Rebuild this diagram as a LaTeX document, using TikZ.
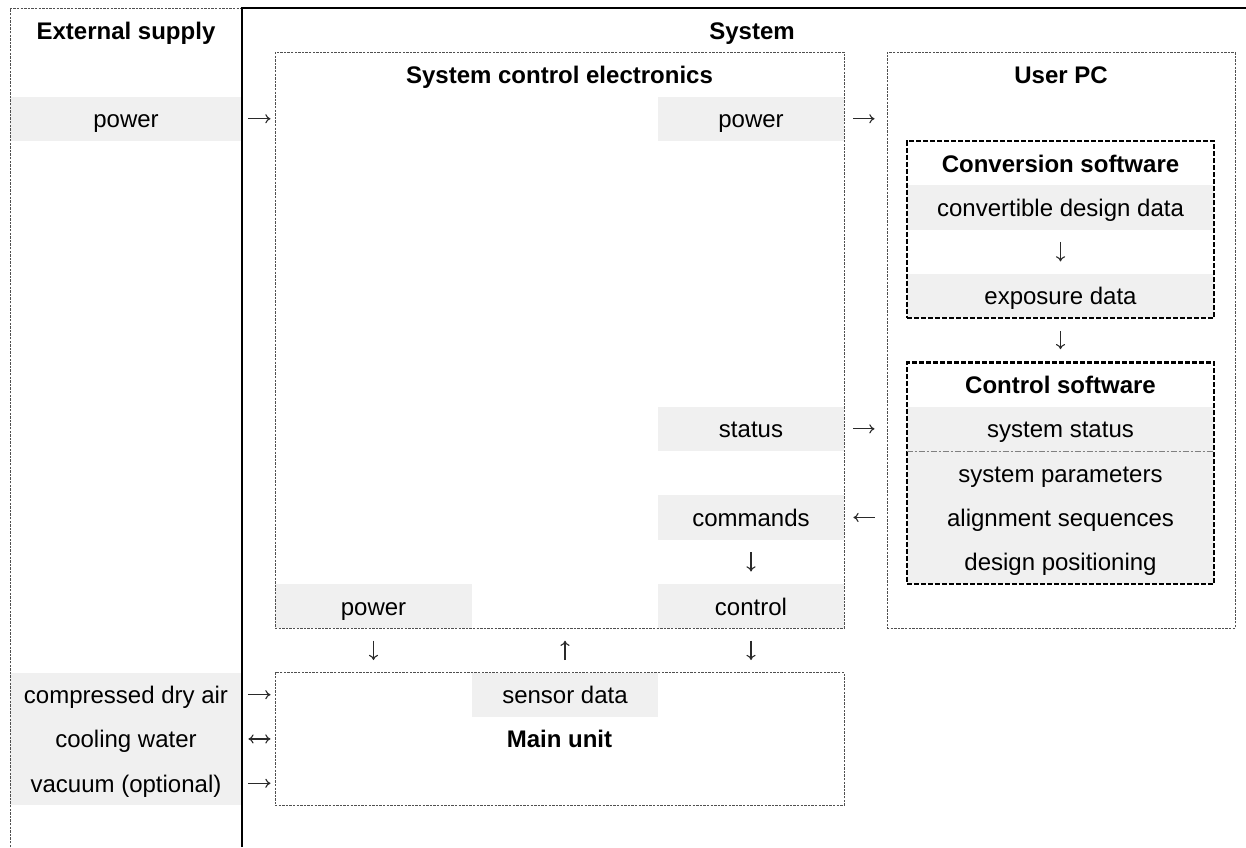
\documentclass[tikz,border=0pt]{standalone}
\usepackage{fontspec}
\setmainfont{Liberation Sans}
\usetikzlibrary{arrows.meta}
\definecolor{bandgray}{HTML}{F0F0F0}
\definecolor{linegray}{HTML}{505050}
\definecolor{arrowgray}{HTML}{2A2A2A}

\begin{document}
\begin{tikzpicture}[
  x=0.5pt, y=-22.15pt,
  every node/.style={font=\fontsize{12}{14}\selectfont, text height=9pt, text depth=0pt},
  band/.style={rectangle, fill=bandgray, inner sep=0pt, minimum height=22.15pt},
  head_text/.style={rectangle, inner sep=0pt, minimum height=22.15pt, font=\fontsize{12}{14}\selectfont\bfseries},
  fine_line/.style={draw=linegray, line width=0.5pt, dash pattern=on 1.2pt off 0.6pt},
  fine_box/.style={rectangle, fine_line, inner sep=0pt},
  heavy_box/.style={rectangle, draw=black, line width=1.2pt, dash pattern=on 2.5pt off 1pt, inner sep=0pt},
  sep_line/.style={draw=gray, line width=0.4pt, dash pattern=on 3pt off 1pt on 1pt off 1pt},
  flow/.style={draw=arrowgray, line width=0.55pt, -{To[length=2.6pt,width=4.6pt]}},
  flow_both/.style={draw=arrowgray, line width=0.55pt, {To[length=2.6pt,width=4.6pt]}-{To[length=2.6pt,width=4.6pt]}},
]
\useasboundingbox (0,-0.1806) rectangle (1246,18.939);

\draw (126,2.5) node (pwr_ext) [band, minimum width=116pt] {power};
\draw (751,2.5) node (pwr_sce) [band, minimum width=93pt] {power};
\draw (1060.5,4.5) node (conv_in) [band, minimum width=153.5pt] {convertible design data};
\draw (1060.5,6.5) node (conv_out) [band, minimum width=153.5pt] {exposure data};
\draw (751,9.5) node (status) [band, minimum width=93pt] {status};
\draw (1060.5,9.5) node (sys_status) [band, minimum width=153.5pt] {system status};
\draw (1060.5,10.5) node (sys_param) [band, minimum width=153.5pt] {system parameters};
\draw (1060.5,11.5) node (align_seq) [band, minimum width=153.5pt] {alignment sequences};
\draw (1060.5,12.5) node (design_pos) [band, minimum width=153.5pt] {design positioning};
\draw (751,11.5) node (commands) [band, minimum width=93pt] {commands};
\draw (373.5,13.5) node (pwr_main) [band, minimum width=98.5pt] {power};
\draw (751,13.5) node (control) [band, minimum width=93pt] {control};
\draw (565,15.5) node (sensor) [band, minimum width=93pt] {sensor data};
\draw (126,15.5) node (air) [band, minimum width=116pt] {compressed dry air};
\draw (126,16.5) node (water) [band, minimum width=116pt] {cooling water};
\draw (126,17.5) node (vacuum) [band, minimum width=116pt] {vacuum (optional)};

\draw (559.5,7.5) node (sce) [fine_box, minimum width=284.5pt, minimum height=287.95pt] {};
\draw (1061,7.5) node (user_pc) [fine_box, minimum width=174pt, minimum height=287.95pt] {};
\draw (1060.5,5) node (conv_sw) [heavy_box, minimum width=153.5pt, minimum height=88.6pt] {};
\draw (1060.5,10.5) node (ctrl_sw) [heavy_box, minimum width=153.5pt, minimum height=110.75pt] {};
\draw (559.5,16.5) node (main_unit) [fine_box, minimum width=284.5pt, minimum height=66.45pt] {};
\draw[sep_line] (sys_status.south west) -- (sys_status.south east);

\draw (126,0.5) node (ext_head) [head_text] {External supply};
\draw (752,0.5) node (sys_head) [head_text] {System};
\draw (559.5,1.5) node (sce_head) [head_text] {System control electronics};
\draw (1061,1.5) node (pc_head) [head_text] {User PC};
\draw (1060.5,3.5) node (conv_head) [head_text] {Conversion software};
\draw (1060.5,8.5) node (ctrl_head) [head_text] {Control software};
\draw (559.5,16.5) node (main_head) [head_text] {Main unit};

\draw[fine_line] (10,18.939) -- (10,0) -- (242,0);
\draw[line width=1pt] (242,18.939) -- (242,0) -- (1246,0);

\draw[flow, shorten <=3pt, shorten >=2pt] (pwr_ext.east) -- (pwr_ext.east -| sce.west);
\draw[flow, shorten <=4.5pt, shorten >=6pt] (pwr_sce.east) -- (pwr_sce.east -| user_pc.west);
\draw[flow, shorten <=6pt, shorten >=6pt] (conv_in.south) -- (conv_out.north);
\draw[flow, shorten <=6pt, shorten >=6pt] (conv_sw.south) -- (ctrl_sw.north);
\draw[flow, shorten <=4.5pt, shorten >=6pt] (status.east) -- (status.east -| user_pc.west);
\draw[flow, shorten <=6pt, shorten >=4.5pt] (commands.east -| user_pc.west) -- (commands.east);
\draw[flow, shorten <=6pt, shorten >=6pt] (commands.south) -- (control.north);
\draw[flow, shorten <=6pt, shorten >=6pt] (pwr_main.south) -- (pwr_main.south |- main_unit.north);
\draw[flow, shorten <=6pt, shorten >=6pt] (sensor.north) -- (sensor.north |- sce.south);
\draw[flow, shorten <=6pt, shorten >=6pt] (control.south) -- (control.south |- main_unit.north);
\draw[flow, shorten <=3pt, shorten >=2pt] (air.east) -- (air.east -| main_unit.west);
\draw[flow_both, shorten <=3pt, shorten >=2pt] (water.east) -- (water.east -| main_unit.west);
\draw[flow, shorten <=3pt, shorten >=2pt] (vacuum.east) -- (vacuum.east -| main_unit.west);
\end{tikzpicture}
\end{document}
